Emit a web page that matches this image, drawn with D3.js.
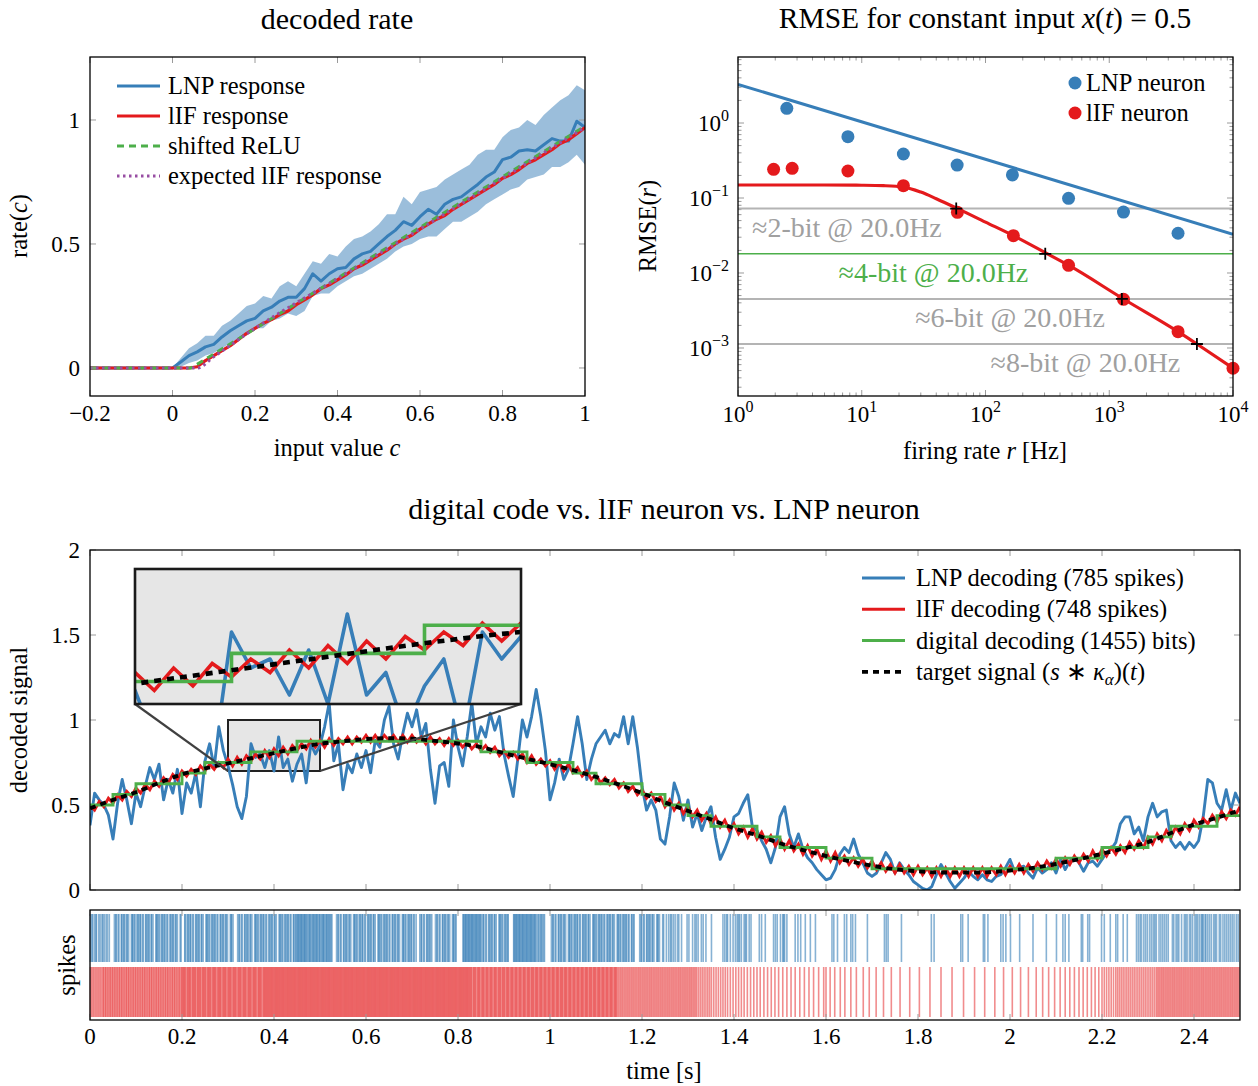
<!DOCTYPE html>
<html>
<head>
<meta charset="utf-8">
<script src="https://cdn.jsdelivr.net/npm/d3@7/dist/d3.min.js"></script>
<style>
  body { margin: 0; background: #fff; }
  svg { display: block; }
  text { font-family: "Liberation Serif", "Times New Roman", serif; fill: #000; }
</style>
</head>
<body>
<svg id="fig" width="1258" height="1086"></svg>
<script>
// ---------- decoded rate (top left) ----------
const inputValues = d3.range(-0.2, 1.0001, 0.02);
const lnpRate = [0,0,0,0,0,0,0,0,0,0,
  0, 0.024, 0.05, 0.065, 0.085, 0.095, 0.125, 0.15, 0.17, 0.19,
  0.20, 0.23, 0.245, 0.27, 0.285, 0.285, 0.32, 0.38, 0.35, 0.38,
  0.40, 0.405, 0.44, 0.46, 0.47, 0.50, 0.53, 0.555, 0.59, 0.575,
  0.61, 0.64, 0.62, 0.66, 0.68, 0.69, 0.715, 0.74, 0.77, 0.79,
  0.84, 0.85, 0.875, 0.88, 0.875, 0.90, 0.925, 0.915, 0.915, 0.995, 0.97];
const lnpRateHi = [0,0,0,0,0,0,0,0,0,0,
  0, 0.04, 0.08, 0.10, 0.13, 0.13, 0.17, 0.19, 0.22, 0.25,
  0.26, 0.29, 0.28, 0.33, 0.35, 0.33, 0.38, 0.43, 0.42, 0.46,
  0.45, 0.49, 0.52, 0.53, 0.55, 0.58, 0.62, 0.62, 0.69, 0.66,
  0.71, 0.72, 0.73, 0.76, 0.78, 0.80, 0.82, 0.86, 0.88, 0.88,
  0.93, 0.96, 0.97, 1.00, 0.98, 1.02, 1.05, 1.08, 1.10, 1.14, 1.12];
const lnpRateLo = [0,0,0,0,0,0,0,0,0,0,
  0, 0.005, 0.02, 0.03, 0.05, 0.06, 0.08, 0.10, 0.12, 0.13,
  0.16, 0.16, 0.19, 0.20, 0.22, 0.21, 0.23, 0.29, 0.30, 0.30,
  0.33, 0.35, 0.37, 0.38, 0.40, 0.42, 0.44, 0.47, 0.49, 0.50,
  0.52, 0.53, 0.53, 0.56, 0.59, 0.59, 0.61, 0.63, 0.66, 0.68,
  0.70, 0.72, 0.73, 0.76, 0.77, 0.78, 0.81, 0.81, 0.83, 0.86, 0.82];
const lifRate = [0,0,0,0,0,0,0,0,0,0,
  0, 0, 0, 0.005, 0.03, 0.05, 0.07, 0.09, 0.115, 0.14,
  0.16, 0.18, 0.195, 0.215, 0.23, 0.255, 0.275, 0.295, 0.32, 0.335,
  0.355, 0.375, 0.40, 0.415, 0.435, 0.455, 0.475, 0.50, 0.52, 0.535,
  0.56, 0.58, 0.60, 0.615, 0.64, 0.66, 0.68, 0.70, 0.72, 0.74,
  0.765, 0.78, 0.80, 0.825, 0.84, 0.86, 0.88, 0.905, 0.92, 0.945, 0.97];
const reluInput = [-0.2, 0.045, 1.0];
const reluRate = [0, 0, 0.975];
const expectedInput = [-0.2, 0.06, 0.1, 0.2, 0.4, 0.6, 0.8, 1.0];
const expectedRate = [0, 0, 0.045, 0.16, 0.36, 0.56, 0.765, 0.97];
const rateTicksX = [-0.2, 0, 0.2, 0.4, 0.6, 0.8, 1];
const rateTickLabelsX = ["\u22120.2", "0", "0.2", "0.4", "0.6", "0.8", "1"];
const rateTicksY = [0, 0.5, 1];
const rateTickLabelsY = ["0", "0.5", "1"];
const rateLegend = ["LNP response", "lIF response", "shifted ReLU", "expected lIF response"];

// ---------- RMSE (top right) ----------
const lnpRates = [2.48, 7.73, 21.7, 59, 165, 469, 1303, 3597];
const lnpRmse = [1.57, 0.657, 0.386, 0.275, 0.203, 0.099, 0.065, 0.0339];
const lifRates = [1.94, 2.74, 7.73, 21.7, 59.3, 168, 469, 1303, 3597, 10000];
const lifRmse = [0.241, 0.249, 0.229, 0.146, 0.0645, 0.0315, 0.01265, 0.00446, 0.00165, 0.000537];
const lnpFitRates = [1, 10000];
const lnpFitRmse = [3.28, 0.0328];
const lifFitRates = [1, 5, 10, 15, 21.7, 30, 40, 59, 100, 168, 304, 469, 1303, 3597, 5110, 10000];
const lifFitRmse = [0.149, 0.149, 0.148, 0.146, 0.140, 0.120, 0.098, 0.0728, 0.0477, 0.0315, 0.0187, 0.0127, 0.0045, 0.00165, 0.00113, 0.00054];
const bitLevels = [0.0722, 0.018, 0.00451, 0.00113];
const bitLabels = ["\u22482-bit @ 20.0Hz", "\u22484-bit @ 20.0Hz", "\u22486-bit @ 20.0Hz", "\u22488-bit @ 20.0Hz"];
const bitLabelRates = [1.3, 6.5, 27, 110];
const bitCrossRates = [58, 304, 1265, 5110];
const rateDecades = [0, 1, 2, 3, 4];
const rmseDecades = [0, -1, -2, -3];

// ---------- decoding over time (bottom) ----------
const targetTime = d3.range(0, 2.5001, 0.05);
const targetSignal = [0.48, 0.53, 0.575, 0.63, 0.68, 0.715, 0.745, 0.775, 0.805, 0.835,
  0.86, 0.875, 0.888, 0.893, 0.89, 0.877, 0.862, 0.84, 0.805, 0.772,
  0.74, 0.705, 0.665, 0.62, 0.57, 0.515, 0.465, 0.415, 0.363, 0.322,
  0.275, 0.235, 0.2, 0.17, 0.143, 0.122, 0.11, 0.103, 0.102, 0.104,
  0.115, 0.13, 0.153, 0.181, 0.213, 0.246, 0.282, 0.335, 0.385, 0.425, 0.47];
const digitalTime = d3.range(0, 2.5001, 0.05);
const digitalSignal = [0.5, 0.5625, 0.625, 0.625, 0.6875, 0.75, 0.75, 0.8125, 0.8125, 0.875,
  0.875, 0.875, 0.875, 0.875, 0.875, 0.875, 0.875, 0.8125, 0.8125, 0.75,
  0.75, 0.6875, 0.625, 0.625, 0.5625, 0.5, 0.4375, 0.375, 0.375, 0.3125,
  0.25, 0.25, 0.1875, 0.1875, 0.125, 0.125, 0.125, 0.125, 0.125, 0.125,
  0.125, 0.125, 0.1875, 0.1875, 0.25, 0.25, 0.3125, 0.375, 0.375, 0.4375, 0.4375];
const decodeTime = d3.range(0, 2.5001, 0.01);
const lifDecoded = [
  0.50, 0.47, 0.52, 0.49, 0.54, 0.51, 0.56, 0.53, 0.58, 0.55,
  0.60, 0.57, 0.62, 0.59, 0.64, 0.61, 0.66, 0.63, 0.68, 0.65,
  0.70, 0.67, 0.71, 0.68, 0.73, 0.70, 0.74, 0.71, 0.75, 0.72,
  0.77, 0.73, 0.78, 0.74, 0.79, 0.76, 0.80, 0.77, 0.82, 0.78,
  0.83, 0.79, 0.84, 0.80, 0.85, 0.82, 0.86, 0.83, 0.88, 0.84,
  0.88, 0.84, 0.89, 0.85, 0.89, 0.86, 0.90, 0.86, 0.90, 0.87,
  0.91, 0.87, 0.91, 0.87, 0.91, 0.88, 0.91, 0.87, 0.91, 0.87,
  0.91, 0.87, 0.90, 0.86, 0.90, 0.86, 0.89, 0.85, 0.89, 0.85,
  0.88, 0.84, 0.87, 0.83, 0.86, 0.82, 0.85, 0.81, 0.84, 0.79,
  0.82, 0.78, 0.81, 0.77, 0.80, 0.75, 0.79, 0.74, 0.77, 0.73,
  0.76, 0.71, 0.75, 0.70, 0.74, 0.69, 0.72, 0.67, 0.70, 0.65,
  0.68, 0.63, 0.66, 0.62, 0.65, 0.60, 0.63, 0.58, 0.61, 0.56,
  0.59, 0.54, 0.57, 0.52, 0.55, 0.49, 0.53, 0.47, 0.51, 0.45,
  0.49, 0.43, 0.47, 0.41, 0.45, 0.39, 0.43, 0.37, 0.41, 0.35,
  0.39, 0.33, 0.37, 0.31, 0.36, 0.30, 0.34, 0.28, 0.32, 0.26,
  0.30, 0.24, 0.29, 0.23, 0.27, 0.21, 0.26, 0.20, 0.24, 0.18,
  0.23, 0.17, 0.22, 0.16, 0.20, 0.15, 0.19, 0.14, 0.18, 0.13,
  0.17, 0.12, 0.16, 0.11, 0.15, 0.10, 0.15, 0.10, 0.14, 0.09,
  0.14, 0.09, 0.13, 0.08, 0.13, 0.08, 0.13, 0.08, 0.13, 0.08,
  0.13, 0.08, 0.13, 0.08, 0.13, 0.08, 0.13, 0.09, 0.14, 0.09,
  0.14, 0.10, 0.15, 0.10, 0.15, 0.11, 0.16, 0.12, 0.17, 0.13,
  0.18, 0.14, 0.19, 0.15, 0.20, 0.16, 0.21, 0.17, 0.23, 0.18,
  0.24, 0.20, 0.25, 0.21, 0.26, 0.22, 0.28, 0.24, 0.29, 0.25,
  0.31, 0.27, 0.33, 0.29, 0.35, 0.31, 0.37, 0.33, 0.39, 0.35,
  0.41, 0.37, 0.42, 0.39, 0.44, 0.40, 0.46, 0.42, 0.47, 0.44,
  0.49];
const lnpDecoded = [
  0.38, 0.57, 0.53, 0.50, 0.44, 0.30, 0.51, 0.65, 0.53, 0.39,
  0.57, 0.49, 0.61, 0.72, 0.65, 0.74, 0.53, 0.65, 0.57, 0.71,
  0.45, 0.63, 0.57, 0.69, 0.49, 0.76, 0.86, 0.72, 0.96, 0.82,
  0.73, 0.62, 0.49, 0.42, 0.55, 0.86, 0.78, 0.80, 0.72, 0.82,
  0.70, 0.90, 0.72, 0.77, 0.64, 0.74, 0.80, 0.63, 0.86, 0.80,
  0.85, 0.96, 1.10, 0.76, 0.86, 0.59, 0.74, 0.69, 0.80, 0.72,
  0.82, 0.69, 0.88, 0.84, 1.00, 1.08, 0.86, 0.77, 0.92, 1.04,
  0.96, 1.06, 0.90, 0.98, 0.71, 0.51, 0.73, 0.75, 0.61, 1.00,
  0.84, 0.73, 0.90, 1.10, 0.86, 0.96, 0.90, 1.04, 0.94, 1.02,
  0.80, 0.67, 0.55, 0.77, 1.00, 0.90, 1.02, 1.18, 1.02, 0.82,
  0.53, 0.63, 0.77, 0.65, 0.71, 0.86, 1.02, 0.86, 0.65, 0.77,
  0.86, 0.90, 0.94, 0.86, 0.92, 0.90, 1.02, 0.86, 1.02, 0.84,
  0.61, 0.47, 0.53, 0.47, 0.30, 0.27, 0.43, 0.63, 0.55, 0.41,
  0.53, 0.37, 0.45, 0.35, 0.43, 0.49, 0.31, 0.18, 0.24, 0.31,
  0.43, 0.45, 0.51, 0.56, 0.37, 0.35, 0.29, 0.24, 0.16, 0.25,
  0.43, 0.49, 0.33, 0.25, 0.33, 0.24, 0.19, 0.16, 0.12, 0.09,
  0.06, 0.07, 0.12, 0.21, 0.25, 0.22, 0.30, 0.21, 0.16, 0.10,
  0.08, 0.10, 0.16, 0.22, 0.18, 0.10, 0.16, 0.12, 0.09, 0.05,
  0.03, 0.01, 0.00, 0.02, 0.09, 0.15, 0.10, 0.05, 0.01, 0.04,
  0.07, 0.11, 0.08, 0.06, 0.09, 0.06, 0.05, 0.08, 0.09, 0.13,
  0.18, 0.11, 0.13, 0.14, 0.10, 0.07, 0.13, 0.10, 0.12, 0.16,
  0.10, 0.18, 0.12, 0.17, 0.19, 0.16, 0.11, 0.16, 0.17, 0.14,
  0.18, 0.22, 0.24, 0.28, 0.39, 0.43, 0.43, 0.33, 0.37, 0.29,
  0.43, 0.51, 0.43, 0.46, 0.47, 0.29, 0.25, 0.28, 0.24, 0.28,
  0.25, 0.29, 0.43, 0.65, 0.63, 0.51, 0.47, 0.59, 0.47, 0.57,
  0.51];
// spike times in milliseconds
const lnpSpikesMs = [
  1,4,6,10,13,14,19,22,26,28,31,35,38,42,
  53,56,57,61,63,68,69,72,74,76,80,81,84,90,92,93,96,98,102,104,106,109,110,114,116,121,122,125,127,129,
  133,134,137,143,145,146,149,151,155,157,159,162,163,167,169,174,175,178,180,182,186,187,190,196,198,
  206,207,211,213,215,218,219,223,225,230,231,234,236,238,242,243,246,252,254,255,258,260,264,266,268,
  271,272,276,278,283,284,287,289,291,295,296,299,305,307,308,311,
  321,324,325,329,331,336,337,340,342,344,348,349,352,358,360,361,364,366,370,372,374,377,378,382,384,
  389,390,393,395,397,401,402,405,411,413,414,417,419,423,425,427,430,431,435,437,442,443,446,448,450,
  452,453,455,457,459,460,462,464,466,467,469,471,473,476,477,479,481,484,485,487,489,491,493,494,497,
  499,500,503,505,507,508,510,513,514,516,518,520,522,524,526,
  536,539,540,544,546,551,552,555,557,559,563,564,567,573,575,576,579,581,585,587,589,592,593,597,599,
  604,605,608,610,612,616,617,620,626,628,629,632,634,638,640,642,645,646,650,652,657,658,661,663,665,
  669,670,673,679,681,682,685,687,691,693,695,698,699,703,705,709,
  717,720,721,725,727,732,733,736,738,740,743,
  751,754,755,759,761,766,767,770,772,774,778,779,782,788,790,791,794,796,
  811,812,814,816,817,819,821,823,824,826,828,830,831,833,835,837,839,840,842,844,846,848,849,852,855,
  856,860,862,867,868,871,873,875,879,880,883,889,891,892,895,897,901,903,905,908,909,
  921,922,924,926,927,929,931,933,934,936,938,940,941,943,945,947,949,950,952,954,956,958,959,961,963,
  965,967,968,971,974,976,979,981,983,986,988,
  1003,1006,1007,1011,1013,1018,1019,1022,1024,1026,1030,1031,1034,1040,1042,1043,1046,1048,1052,1054,
  1056,1059,1060,1064,1066,1071,1072,1075,1077,1079,1083,1084,1087,1093,1095,1096,1099,1101,1105,1107,
  1109,1112,1113,1117,1119,1124,1125,1128,1130,1132,1136,1137,1140,1146,1148,1149,1152,1154,1158,1160,
  1162,1165,1166,1170,1172,1177,1178,1181,1183,
  1195,1198,1199,1203,1205,1210,1211,1214,1216,1218,1222,1223,1226,1232,1234,1235,1238,
  1245,1247,1253,1258,1262,1264,1268,1272,1277,1280,1286,1298,1302,1310,1315,1318,1322,1329,1333,1339,1351,
  1376,1380,1384,1386,1392,1398,1403,1407,1410,1412,1416,1422,1425,1427,1433,1437,
  1455,1460,1468,1486,1490,1494,1501,1506,1508,1510,1515,1533,1539,1545,1555,1566,1577,1613,1617,1625,
  1640,1645,1654,1658,1664,1690,1727,1731,1735,1764,1829,1835,1893,1897,1909,1942,1945,1952,1980,1985,
  1991,2001,2021,2050,2079,2101,2115,2120,2128,2155,2158,2169,2173,2199,2205,2218,2230,2234,2246,2255,
  2275,2279,2283,2286,2291,2295,2299,2304,2308,2312,2315,2318,2324,2328,2332,2336,2340,2344,2353,2356,
  2361,2364,2367,2373,2379,2382,2385,2390,2393,2397,2402,2405,2408,2412,2416,2418,2420,2424,2426,2430,
  2434,2438,2443,2446,2449,2455,2458,2463,2467,2471,2475,2479,2483,2487,2492,2496];
const lifSpikesMs = [
  1,4,7,10,13,16,19,22,25,28,
  30,33,35,38,40,43,45,48,50,53,55,58,60,63,65,68,70,73,75,78,80,83,85,88,90,93,95,98,
  100,103,105,108,110,113,115,118,120,123,125,128,130,133,135,138,140,143,145,148,150,153,155,158,
  160,163,165,168,170,173,175,178,180,183,185,188,190,193,195,198,
  200,202,204,206,208,211,213,215,217,219,222,224,226,228,230,233,235,237,239,241,244,246,248,250,252,
  255,257,259,261,263,266,268,270,272,274,277,279,281,283,285,288,290,292,294,296,299,301,303,305,307,
  310,312,314,316,318,321,323,325,327,329,332,334,336,338,340,343,345,347,349,351,354,356,358,360,362,
  365,367,369,371,373,376,378,
  380,382,384,386,388,390,392,394,396,398,400,402,404,406,408,410,412,414,416,418,
  420,422,424,426,428,430,432,434,436,438,440,442,444,446,448,450,452,454,456,458,
  460,462,464,466,468,470,472,474,476,478,480,482,484,486,488,490,492,494,496,498,
  500,502,504,506,508,510,512,514,516,518,520,522,524,526,528,530,532,534,536,538,
  540,542,544,546,548,550,552,554,556,558,560,562,564,566,568,570,572,574,576,578,
  580,582,584,586,588,590,592,594,596,598,600,602,604,606,608,610,612,614,616,618,
  620,622,624,626,628,630,632,634,636,638,640,642,644,646,648,650,652,654,656,658,
  660,662,664,666,668,670,672,674,676,678,680,682,684,686,688,690,692,694,696,698,
  700,702,704,706,708,710,712,714,716,718,720,722,724,726,728,730,732,734,736,738,
  740,742,744,746,748,750,752,754,756,758,760,762,764,766,768,770,772,774,776,778,
  780,782,784,786,788,790,792,794,796,798,800,802,804,806,808,810,812,814,816,818,
  820,822,824,826,828,830,
  833,835,837,839,842,844,846,848,851,853,855,857,860,862,864,866,869,871,873,875,
  878,880,882,884,887,889,891,893,896,898,900,902,905,907,909,911,914,916,918,920,
  923,925,927,929,932,934,936,938,941,943,945,947,950,952,954,956,959,961,963,965,
  968,970,972,974,977,979,981,983,986,988,990,992,995,997,999,1001,1004,1006,1008,1010,
  1013,1015,1017,1019,1022,1024,1026,1028,1031,1033,1035,1037,1040,1042,1044,1046,
  1049,1051,1053,1055,1058,1060,1062,1064,1067,1069,1071,1073,1076,1078,1080,1082,
  1085,1087,1089,1091,1094,1096,1098,1100,1103,1105,1107,1109,1112,1114,1116,1118,
  1121,1123,1125,1127,1130,1132,1134,1136,1139,1141,1143,1145,
  1148,1151,1154,1157,1160,1163,1166,1169,1172,1175,1178,1181,1184,1187,1190,1193,1196,1199,1202,1205,
  1208,1211,1214,1217,1220,1223,1226,1229,1232,1235,1238,1241,1244,1247,1250,1253,1256,1259,1262,1265,
  1268,1271,1274,1277,1280,1283,1286,1289,1292,1295,1298,1301,1304,1307,1310,1313,1316,1319,
  1323,1327,1331,1335,1339,1343,1347,1351,1356,1361,1366,1371,1376,1381,1386,1392,1398,1404,1410,1416,
  1422,1429,1436,1443,1450,1457,1465,1473,1481,1489,1497,1506,1515,1524,1533,1543,1553,1563,1573,1584,1595,
  1600,1609,1619,1631,1641,1654,1666,1681,1694,1709,1725,1742,1761,1782,1803,1826,1850,1874,1899,1923,
  1945,1967,1986,2005,2023,2040,2057,2071,2084,2097,2109,2120,2130,2140,2150,2159,2168,2177,2185,2193,
  2200,2205,2210,2215,2220,2225,2230,2234,2238,2242,2246,2250,2254,2258,2262,2266,2270,2274,2278,2282,
  2286,2290,2294,2298,2302,2306,2310,2314,2318,
  2321,2324,2327,2330,2333,2336,2339,2342,2345,2348,2351,2354,2357,2360,2363,2366,2369,2372,2375,2378,
  2381,2384,2387,2390,2393,2396,2399,2402,2405,2408,2411,2414,2417,2420,2423,2426,2429,2432,2435,2438,
  2441,2444,2447,2450,2453,2456,2459,2462,2465,2468,2471,2474,2477,2480,2483,2486,2489,2492,2495,2498];
const timeTicks = [0, 0.2, 0.4, 0.6, 0.8, 1, 1.2, 1.4, 1.6, 1.8, 2, 2.2, 2.4];
const timeTickLabels = ["0", "0.2", "0.4", "0.6", "0.8", "1", "1.2", "1.4", "1.6", "1.8", "2", "2.2", "2.4"];
const signalTicks = [0, 0.5, 1, 1.5, 2];
const signalTickLabels = ["0", "0.5", "1", "1.5", "2"];
const zoomWindow = { t0: 0.3, t1: 0.5, v0: 0.7, v1: 1.0 };

// ---------- drawing ----------
const COL = { blue: "#377eb8", red: "#e41a1c", green: "#4daf4a", purple: "#984ea3", tick: "#9a9a9a", bitGray: "#a0a0a0" };
const svg = d3.select("#fig");
const defs = svg.append("defs");

function clipRect(id, x0, y0, x1, y1) {
  defs.append("clipPath").attr("id", id).append("rect")
    .attr("x", x0).attr("y", y0).attr("width", x1 - x0).attr("height", y1 - y0);
}
function frame(g, x0, y0, x1, y1) {
  g.append("rect").attr("x", x0).attr("y", y0).attr("width", x1 - x0).attr("height", y1 - y0)
    .attr("fill", "none").attr("stroke", "#000").attr("stroke-width", 1.3);
}
function vTick(g, x, y, len) {
  g.append("line").attr("x1", x).attr("x2", x).attr("y1", y).attr("y2", y + len)
    .attr("stroke", COL.tick).attr("stroke-width", 1);
}
function hTick(g, x, y, len) {
  g.append("line").attr("x1", x).attr("x2", x + len).attr("y1", y).attr("y2", y)
    .attr("stroke", COL.tick).attr("stroke-width", 1);
}
function series(g, xs, ys, sx, sy, curve) {
  const line = d3.line().x((d, i) => sx(xs[i])).y((d, i) => sy(ys[i]));
  if (curve) line.curve(curve);
  return g.append("path").datum(xs).attr("d", line).attr("fill", "none");
}
function rich(g, x, y, size, anchor, parts) {
  const t = g.append("text").attr("x", x).attr("y", y).attr("text-anchor", anchor).style("font-size", size + "px");
  parts.forEach(p => {
    const s = t.append("tspan").text(p.t);
    if (p.i) s.style("font-style", "italic");
    if (p.dy) s.attr("dy", p.dy);
    if (p.fs) s.style("font-size", p.fs + "px");
  });
  return t;
}
function vLabel(g, x, y, size, parts) {
  const t = rich(g, 0, 0, size, "middle", parts);
  t.attr("transform", `translate(${x},${y}) rotate(-90)`);
}
function powLabel(g, x, y, exp, anchor) {
  rich(g, x, y, 23, anchor, [{ t: "10" }, { t: exp < 0 ? "\u2212" + (-exp) : String(exp), dy: -10, fs: 16 }]);
}

// ===== panel 1 : decoded rate =====
const P1 = { l: 90, r: 585, t: 57, b: 396 };
const x1 = d3.scaleLinear().domain([-0.2, 1]).range([P1.l, P1.r]);
const y1 = d3.scaleLinear().domain([-0.113, 1.254]).range([P1.b, P1.t]);
clipRect("clip1", P1.l, P1.t, P1.r, P1.b);
const g1 = svg.append("g");
const g1d = g1.append("g").attr("clip-path", "url(#clip1)");
g1d.append("path").datum(inputValues)
  .attr("d", d3.area().x(d => x1(d)).y0((d, i) => y1(lnpRateLo[i])).y1((d, i) => y1(lnpRateHi[i])))
  .attr("fill", COL.blue).attr("fill-opacity", 0.5);
series(g1d, inputValues, lnpRate, x1, y1).attr("stroke", COL.blue).attr("stroke-width", 3).attr("stroke-linejoin", "round");
series(g1d, inputValues, lifRate, x1, y1).attr("stroke", COL.red).attr("stroke-width", 3.2).attr("stroke-linejoin", "round");
series(g1d, reluInput, reluRate, x1, y1).attr("stroke", COL.green).attr("stroke-width", 3).attr("stroke-dasharray", "7,5");
series(g1d, expectedInput, expectedRate, x1, y1, d3.curveMonotoneX).attr("stroke", COL.purple).attr("stroke-width", 3).attr("stroke-dasharray", "2.5,3.5");
rateTicksX.forEach((v, i) => {
  vTick(g1, x1(v), P1.b, -6); vTick(g1, x1(v), P1.t, 6);
  g1.append("text").attr("x", x1(v)).attr("y", 421).attr("text-anchor", "middle").style("font-size", "23px").text(rateTickLabelsX[i]);
});
rateTicksY.forEach((v, i) => {
  hTick(g1, P1.l, y1(v), 6); hTick(g1, P1.r, y1(v), -6);
  g1.append("text").attr("x", 80).attr("y", y1(v) + 8).attr("text-anchor", "end").style("font-size", "23px").text(rateTickLabelsY[i]);
});
frame(g1, P1.l, P1.t, P1.r, P1.b);
const leg1Style = [
  { c: COL.blue, d: null }, { c: COL.red, d: null }, { c: COL.green, d: "7,5" }, { c: COL.purple, d: "2.5,3.5" }];
rateLegend.forEach((name, i) => {
  const yy = 86 + i * 30;
  const ln = g1.append("line").attr("x1", 117).attr("x2", 160).attr("y1", yy).attr("y2", yy)
    .attr("stroke", leg1Style[i].c).attr("stroke-width", 3);
  if (leg1Style[i].d) ln.attr("stroke-dasharray", leg1Style[i].d);
  g1.append("text").attr("x", 168).attr("y", yy + 8).style("font-size", "24.5px").text(name);
});
rich(g1, 337, 29, 30, "middle", [{ t: "decoded rate" }]);
rich(g1, 337, 456, 24.5, "middle", [{ t: "input value " }, { t: "c", i: true }]);
vLabel(g1, 27, 226, 24.5, [{ t: "rate(" }, { t: "c", i: true }, { t: ")" }]);

// ===== panel 2 : RMSE =====
const P2 = { l: 738, r: 1233, t: 57, b: 396 };
const x2 = d3.scaleLog().domain([1, 1e4]).range([P2.l, P2.r]);
const y2 = d3.scaleLog().domain([2.29e-4, 7.59]).range([P2.b, P2.t]);
clipRect("clip2", P2.l, P2.t, P2.r, P2.b);
const g2 = svg.append("g");
const isDecade = v => Math.abs(Math.log10(v) - Math.round(Math.log10(v))) < 1e-9;
x2.ticks().forEach(v => {
  const len = isDecade(v) ? 6 : 3.5;
  vTick(g2, x2(v), P2.b, -len); vTick(g2, x2(v), P2.t, len);
});
y2.ticks().forEach(v => {
  const len = isDecade(v) ? 6 : 3.5;
  hTick(g2, P2.l, y2(v), len); hTick(g2, P2.r, y2(v), -len);
});
const g2d = g2.append("g").attr("clip-path", "url(#clip2)");
bitLevels.forEach((lv, i) => {
  g2d.append("line").attr("x1", P2.l).attr("x2", P2.r).attr("y1", y2(lv)).attr("y2", y2(lv))
    .attr("stroke", i === 1 ? COL.green : "#b4b4b4").attr("stroke-width", i === 1 ? 1.5 : 2);
});
series(g2d, lnpFitRates, lnpFitRmse, x2, y2).attr("stroke", COL.blue).attr("stroke-width", 3);
series(g2d, lifFitRates, lifFitRmse, x2, y2, d3.curveMonotoneX).attr("stroke", COL.red).attr("stroke-width", 3.2);
g2.append("g").selectAll("circle").data(lnpRates).join("circle")
  .attr("cx", d => x2(d)).attr("cy", (d, i) => y2(lnpRmse[i])).attr("r", 6.5).attr("fill", COL.blue);
g2.append("g").selectAll("circle").data(lifRates).join("circle")
  .attr("cx", d => x2(d)).attr("cy", (d, i) => y2(lifRmse[i])).attr("r", 6.5).attr("fill", COL.red);
g2.append("g").selectAll("path").data(bitCrossRates).join("path")
  .attr("transform", (d, i) => `translate(${x2(d)},${y2(bitLevels[i])})`)
  .attr("d", "M-6,0H6M0,-6V6").attr("stroke", "#000").attr("stroke-width", 1.8);
bitLabels.forEach((lb, i) => {
  g2.append("text").attr("x", x2(bitLabelRates[i])).attr("y", y2(bitLevels[i]) + 28)
    .style("font-size", "28px").style("fill", i === 1 ? COL.green : COL.bitGray).text(lb);
});
frame(g2, P2.l, P2.t, P2.r, P2.b);
rateDecades.forEach(e => powLabel(g2, x2(Math.pow(10, e)), 422, e, "middle"));
rmseDecades.forEach(e => powLabel(g2, 729, y2(Math.pow(10, e)) + 8, e, "end"));
[{ c: COL.blue, n: "LNP neuron" }, { c: COL.red, n: "lIF neuron" }].forEach((it, i) => {
  const yy = 83 + i * 30;
  g2.append("circle").attr("cx", 1075).attr("cy", yy).attr("r", 6.5).attr("fill", it.c);
  g2.append("text").attr("x", 1086).attr("y", yy + 8).style("font-size", "24.5px").text(it.n);
});
rich(g2, 985, 28, 29.5, "middle", [{ t: "RMSE for constant input " }, { t: "x", i: true }, { t: "(" }, { t: "t", i: true }, { t: ") = 0.5" }]);
rich(g2, 985, 459, 24.5, "middle", [{ t: "firing rate " }, { t: "r", i: true }, { t: " [Hz]" }]);
vLabel(g2, 656, 226, 24.5, [{ t: "RMSE(" }, { t: "r", i: true }, { t: ")" }]);

// ===== panel 3 : decoding over time =====
const P3 = { l: 90, r: 1240, t: 550, b: 890 };
const PS = { t: 910, b: 1020 };
const x3 = d3.scaleLinear().domain([0, 2.5]).range([P3.l, P3.r]);
const y3 = d3.scaleLinear().domain([0, 2]).range([P3.b, P3.t]);
clipRect("clip3", P3.l, P3.t, P3.r, P3.b);
const g3 = svg.append("g");
timeTicks.forEach(v => { vTick(g3, x3(v), P3.b, -6); vTick(g3, x3(v), P3.t, 6); });
signalTicks.forEach((v, i) => {
  hTick(g3, P3.l, y3(v), 6); hTick(g3, P3.r, y3(v), -6);
  g3.append("text").attr("x", 80).attr("y", y3(v) + 8).attr("text-anchor", "end").style("font-size", "23px").text(signalTickLabels[i]);
});
// zoom window in the main axes
g3.append("rect").attr("x", x3(zoomWindow.t0)).attr("y", y3(zoomWindow.v1))
  .attr("width", x3(zoomWindow.t1) - x3(zoomWindow.t0)).attr("height", y3(zoomWindow.v0) - y3(zoomWindow.v1))
  .attr("fill", "#e6e6e6").attr("stroke", "#222").attr("stroke-width", 2);

function drawSignals(g, sx, sy, w) {
  series(g, decodeTime, lnpDecoded, sx, sy).attr("stroke", COL.blue).attr("stroke-width", w).attr("stroke-linejoin", "round");
  series(g, decodeTime, lifDecoded, sx, sy).attr("stroke", COL.red).attr("stroke-width", w).attr("stroke-linejoin", "miter");
  series(g, digitalTime, digitalSignal, sx, sy, d3.curveStepAfter).attr("stroke", COL.green).attr("stroke-width", w);
  series(g, targetTime, targetSignal, sx, sy, d3.curveMonotoneX).attr("stroke", "#000").attr("stroke-width", w + 1)
    .attr("stroke-dasharray", w > 3.2 ? "7,6" : "6,5");
}
const g3d = g3.append("g").attr("clip-path", "url(#clip3)");
drawSignals(g3d, x3, y3, 2.9);
frame(g3, P3.l, P3.t, P3.r, P3.b);

// magnified inset
const INS = { l: 135, r: 521, t: 569, b: 704 };
const xi = d3.scaleLinear().domain([zoomWindow.t0, zoomWindow.t1]).range([INS.l, INS.r]);
const yi = d3.scaleLinear().domain([zoomWindow.v0, zoomWindow.v1]).range([INS.b, INS.t]);
g3.append("line").attr("x1", INS.l).attr("y1", INS.b).attr("x2", x3(zoomWindow.t0)).attr("y2", y3(zoomWindow.v0))
  .attr("stroke", "#404040").attr("stroke-width", 2.2);
g3.append("line").attr("x1", INS.r).attr("y1", INS.b).attr("x2", x3(zoomWindow.t1)).attr("y2", y3(zoomWindow.v0))
  .attr("stroke", "#404040").attr("stroke-width", 2.2);
clipRect("clipInset", INS.l, INS.t, INS.r, INS.b);
g3.append("rect").attr("x", INS.l).attr("y", INS.t).attr("width", INS.r - INS.l).attr("height", INS.b - INS.t).attr("fill", "#e6e6e6");
drawSignals(g3.append("g").attr("clip-path", "url(#clipInset)"), xi, yi, 3.6);
g3.append("rect").attr("x", INS.l).attr("y", INS.t).attr("width", INS.r - INS.l).attr("height", INS.b - INS.t)
  .attr("fill", "none").attr("stroke", "#1a1a1a").attr("stroke-width", 2.6);

// legend
const leg3 = [
  { c: COL.blue, d: null, parts: [{ t: "LNP decoding (785 spikes)" }] },
  { c: COL.red, d: null, parts: [{ t: "lIF decoding (748 spikes)" }] },
  { c: COL.green, d: null, parts: [{ t: "digital decoding (1455) bits)" }] },
  { c: "#000", d: "6,5", parts: [{ t: "target signal (" }, { t: "s", i: true }, { t: " \u2217 " }, { t: "\u03ba", i: true },
    { t: "\u03b1", i: true, dy: 5, fs: 17 }, { t: ")(", dy: -5 }, { t: "t", i: true }, { t: ")" }] }];
leg3.forEach((it, i) => {
  const yy = 578 + i * 31.3;
  const ln = g3.append("line").attr("x1", 862).attr("x2", 905).attr("y1", yy).attr("y2", yy)
    .attr("stroke", it.c).attr("stroke-width", it.d ? 3.6 : 3);
  if (it.d) ln.attr("stroke-dasharray", it.d);
  rich(g3, 916, yy + 8, 24.5, "start", it.parts);
});
rich(g3, 664, 519, 30, "middle", [{ t: "digital code vs. lIF neuron vs. LNP neuron" }]);
vLabel(g3, 27, 720, 24.5, [{ t: "decoded signal" }]);

// spike raster
const gs = svg.append("g");
gs.append("g").selectAll("line").data(lnpSpikesMs).join("line")
  .attr("x1", d => x3(d / 1000)).attr("x2", d => x3(d / 1000)).attr("y1", 914).attr("y2", 962)
  .attr("stroke", COL.blue).attr("stroke-opacity", 0.6).attr("stroke-width", 1.6);
gs.append("g").selectAll("line").data(lifSpikesMs).join("line")
  .attr("x1", d => x3(d / 1000)).attr("x2", d => x3(d / 1000)).attr("y1", 967).attr("y2", 1017)
  .attr("stroke", COL.red).attr("stroke-opacity", 0.5).attr("stroke-width", 1.6);
timeTicks.forEach((v, i) => {
  vTick(gs, x3(v), PS.b, -6); vTick(gs, x3(v), PS.t, 6);
  gs.append("text").attr("x", x3(v)).attr("y", 1044).attr("text-anchor", "middle").style("font-size", "23px").text(timeTickLabels[i]);
});
frame(gs, P3.l, PS.t, P3.r, PS.b);
rich(gs, 664, 1079, 24.5, "middle", [{ t: "time [s]" }]);
vLabel(gs, 75, 965, 24.5, [{ t: "spikes" }]);
</script>
</body>
</html>
